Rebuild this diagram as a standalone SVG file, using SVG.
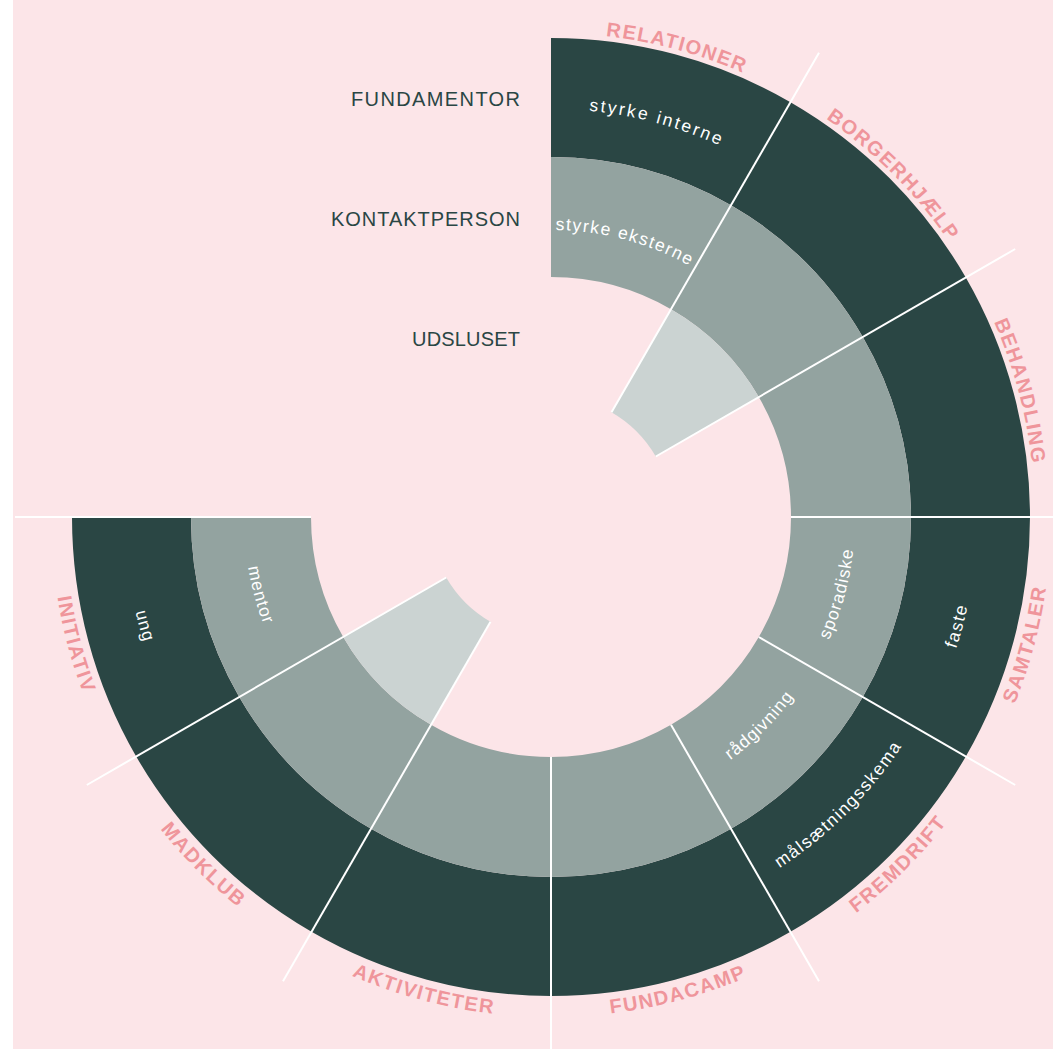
<svg xmlns="http://www.w3.org/2000/svg" width="1053" height="1049" viewBox="0 0 1053 1049">
  <style>
    .dark { fill: #2a4644; }
    .grey { fill: #93a3a0; }
    .light { fill: #cbd3d2; }
    .lbl { font-family: "Liberation Sans", Arial, sans-serif; font-weight: 700; font-size: 20px; fill: #ef959b; letter-spacing: 1.5px; }
    .in { font-family: "Liberation Sans", Arial, sans-serif; font-size: 17.5px; fill: #ffffff; letter-spacing: 1px; }
    .in.wide { letter-spacing: 2.3px; }
    .in.mid { letter-spacing: 1.5px; }
    .side { font-family: "Liberation Sans", Arial, sans-serif; font-size: 20px; fill: #2a4644; text-anchor: end; }
    .conn { stroke: #ffffff; stroke-width: 2; fill: none; }
  </style>
  <defs>
    <path id="p-rel" d="M346.5,78.3 A484,484 0 0 1 947.5,239.4"/>
    <path id="p-bor" d="M593.2,34.8 A484,484 0 0 1 1033.2,474.8"/>
    <path id="p-beh" d="M828.6,120.5 A484,484 0 0 1 989.7,721.5"/>
    <path id="p-sam" d="M837.8,926.6 A500,500 0 0 0 1004.2,305.7"/>
    <path id="p-fre" d="M594.6,1015.1 A500,500 0 0 0 1049.1,560.6"/>
    <path id="p-fun" d="M339.7,970.2 A500,500 0 0 0 960.6,803.8"/>
    <path id="p-akt" d="M141.4,803.8 A500,500 0 0 0 762.3,970.2"/>
    <path id="p-mad" d="M52.9,560.6 A500,500 0 0 0 507.4,1015.1"/>
    <path id="p-ini" d="M97.8,305.7 A500,500 0 0 0 264.2,926.6"/>
    <path id="p-si" d="M411.5,133.6 A408,408 0 0 1 863.5,254.7"/>
    <path id="p-se" d="M452.8,247.3 A287,287 0 0 1 770.8,332.5"/>
    <path id="p-faste" d="M795.4,866 A426,426 0 0 0 937.1,337"/>
    <path id="p-spor" d="M725.4,766 A304,304 0 0 0 826.5,388.5"/>
    <path id="p-rad" d="M577.3,817.9 A302,302 0 0 0 851.9,543.3"/>
    <path id="p-mal" d="M587.5,934.4 A419,419 0 0 0 968.4,553.5"/>
    <path id="p-men" d="M272.8,387.3 A307,307 0 0 0 374.9,768.5"/>
    <path id="p-ung" d="M164.9,337 A426,426 0 0 0 306.6,866"/>
  </defs>

  <rect x="0" y="0" width="1053" height="1049" fill="#ffffff"/>
  <rect x="13" y="0" width="1040" height="1049" fill="#fce5e8"/>

  <g id="legend">
    <text class="side" x="520" y="106" textLength="169" lengthAdjust="spacing">FUNDAMENTOR</text>
    <text class="side" x="520" y="226" textLength="189" lengthAdjust="spacing">KONTAKTPERSON</text>
    <text class="side" x="520" y="346" textLength="108" lengthAdjust="spacing">UDSLUSET</text>
  </g>

  <g id="relationer">
    <path class="dark" d="M551,38 A479,479 0 0 1 790.5,102.2 L731,205.2 A360,360 0 0 0 551,157 Z"/>
    <path class="grey" d="M551,157 A360,360 0 0 1 731,205.2 L671,309.2 A240,240 0 0 0 551,277 Z"/>
    <text class="in wide"><textPath href="#p-si" startOffset="50%" text-anchor="middle">styrke interne</textPath></text>
    <text class="in mid"><textPath href="#p-se" startOffset="50%" text-anchor="middle">styrke eksterne</textPath></text>
    <text class="lbl"><textPath href="#p-rel" startOffset="50%" text-anchor="middle">RELATIONER</textPath></text>
  </g>

  <g id="borgerhjaelp">
    <path class="dark" d="M790.5,102.2 A479,479 0 0 1 965.8,277.5 L862.8,337 A360,360 0 0 0 731,205.2 Z"/>
    <path class="grey" d="M731,205.2 A360,360 0 0 1 862.8,337 L758.8,397 A240,240 0 0 0 671,309.2 Z"/>
    <path class="light" d="M671,309.2 A240,240 0 0 1 758.8,397 L655.8,456.5 A121,121 0 0 0 611.5,412.2 Z"/>
    <text class="lbl"><textPath href="#p-bor" startOffset="50%" text-anchor="middle">BORGERHJÆLP</textPath></text>
  </g>

  <g id="behandling">
    <path class="dark" d="M965.8,277.5 A479,479 0 0 1 1030,517 L911,517 A360,360 0 0 0 862.8,337 Z"/>
    <path class="grey" d="M862.8,337 A360,360 0 0 1 911,517 L791,517 A240,240 0 0 0 758.8,397 Z"/>
    <text class="lbl"><textPath href="#p-beh" startOffset="50%" text-anchor="middle">BEHANDLING</textPath></text>
  </g>

  <g id="samtaler">
    <path class="dark" d="M1030,517 A479,479 0 0 1 965.8,756.5 L862.8,697 A360,360 0 0 0 911,517 Z"/>
    <path class="grey" d="M911,517 A360,360 0 0 1 862.8,697 L758.8,637 A240,240 0 0 0 791,517 Z"/>
    <text class="in mid"><textPath href="#p-faste" startOffset="50%" text-anchor="middle">faste</textPath></text>
    <text class="in"><textPath href="#p-spor" startOffset="50%" text-anchor="middle">sporadiske</textPath></text>
    <text class="lbl"><textPath href="#p-sam" startOffset="50%" text-anchor="middle">SAMTALER</textPath></text>
  </g>

  <g id="fremdrift">
    <path class="dark" d="M965.8,756.5 A479,479 0 0 1 790.5,931.8 L731,828.8 A360,360 0 0 0 862.8,697 Z"/>
    <path class="grey" d="M862.8,697 A360,360 0 0 1 731,828.8 L671,724.8 A240,240 0 0 0 758.8,637 Z"/>
    <text class="in mid"><textPath href="#p-mal" startOffset="50%" text-anchor="middle">målsætningsskema</textPath></text>
    <text class="in"><textPath href="#p-rad" startOffset="50%" text-anchor="middle">rådgivning</textPath></text>
    <text class="lbl"><textPath href="#p-fre" startOffset="50%" text-anchor="middle">FREMDRIFT</textPath></text>
  </g>

  <g id="fundacamp">
    <path class="dark" d="M790.5,931.8 A479,479 0 0 1 551,996 L551,877 A360,360 0 0 0 731,828.8 Z"/>
    <path class="grey" d="M731,828.8 A360,360 0 0 1 551,877 L551,757 A240,240 0 0 0 671,724.8 Z"/>
    <text class="lbl"><textPath href="#p-fun" startOffset="50%" text-anchor="middle">FUNDACAMP</textPath></text>
  </g>

  <g id="aktiviteter">
    <path class="dark" d="M551,996 A479,479 0 0 1 311.5,931.8 L371,828.8 A360,360 0 0 0 551,877 Z"/>
    <path class="grey" d="M551,877 A360,360 0 0 1 371,828.8 L431,724.8 A240,240 0 0 0 551,757 Z"/>
    <text class="lbl"><textPath href="#p-akt" startOffset="50%" text-anchor="middle">AKTIVITETER</textPath></text>
  </g>

  <g id="madklub">
    <path class="dark" d="M311.5,931.8 A479,479 0 0 1 136.2,756.5 L239.2,697 A360,360 0 0 0 371,828.8 Z"/>
    <path class="grey" d="M371,828.8 A360,360 0 0 1 239.2,697 L343.2,637 A240,240 0 0 0 431,724.8 Z"/>
    <path class="light" d="M431,724.8 A240,240 0 0 1 343.2,637 L446.2,577.5 A121,121 0 0 0 490.5,621.8 Z"/>
    <text class="lbl"><textPath href="#p-mad" startOffset="50%" text-anchor="middle">MADKLUB</textPath></text>
  </g>

  <g id="initiativ">
    <path class="dark" d="M136.2,756.5 A479,479 0 0 1 72,517 L191,517 A360,360 0 0 0 239.2,697 Z"/>
    <path class="grey" d="M239.2,697 A360,360 0 0 1 191,517 L311,517 A240,240 0 0 0 343.2,637 Z"/>
    <text class="in"><textPath href="#p-ung" startOffset="50%" text-anchor="middle">ung</textPath></text>
    <text class="in"><textPath href="#p-men" startOffset="50%" text-anchor="middle">mentor</textPath></text>
    <text class="lbl"><textPath href="#p-ini" startOffset="50%" text-anchor="middle">INITIATIV</textPath></text>
  </g>

  <g id="connectors">
    <path class="conn" d="M611.5,412.2 L819,52.8"/>
    <path class="conn" d="M655.8,456.5 L1015.2,249"/>
    <path class="conn" d="M791,517 L1087,517"/>
    <path class="conn" d="M758.8,637 L1015.2,785"/>
    <path class="conn" d="M671,724.8 L819,981.2"/>
    <path class="conn" d="M551,757 L551,1053"/>
    <path class="conn" d="M490.5,621.8 L283,981.2"/>
    <path class="conn" d="M446.2,577.5 L86.8,785"/>
    <path class="conn" d="M311,517 L15,517"/>
  </g>
</svg>
